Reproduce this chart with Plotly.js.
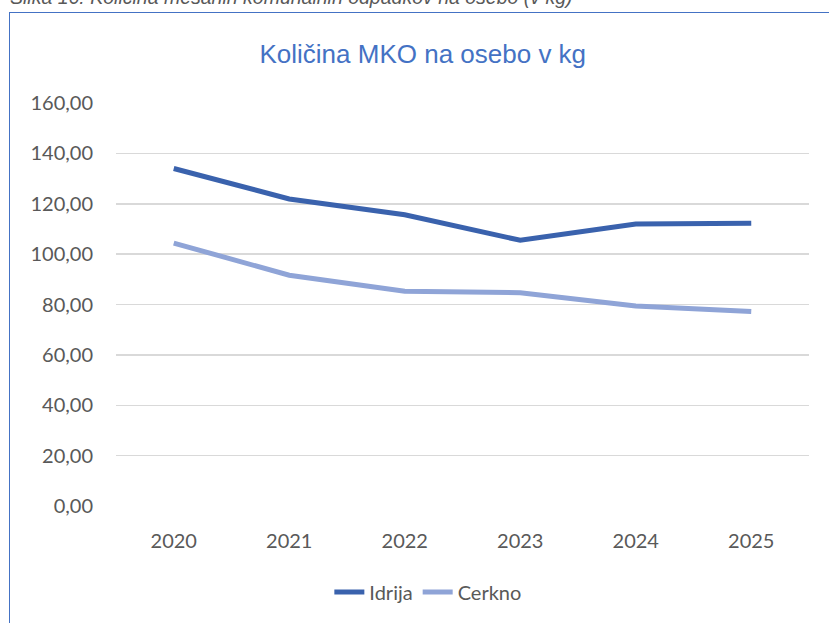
<!DOCTYPE html>
<html>
<head>
<meta charset="utf-8">
<script src="https://cdn.plot.ly/plotly-3.0.1.min.js"></script>
<style>
  html, body { margin: 0; padding: 0; background: #fff; }
  #wrap { position: relative; width: 829px; height: 623px; overflow: hidden; }
  #frame { position: absolute; left: 9px; top: 12px; width: 900px; height: 700px; border: 1.5px solid #4472C4; box-sizing: border-box; }
  #chart { position: absolute; left: 0; top: 0; width: 829px; height: 623px; }
</style>
</head>
<body>
<div id="wrap">
  <div id="frame"></div>
  <div id="chart"></div>
</div>
<script>
const years = ["2020", "2021", "2022", "2023", "2024", "2025"];
const idrija = [134.0, 121.9, 115.6, 105.5, 112.0, 112.3];
const cerkno = [104.4, 91.6, 85.3, 84.7, 79.4, 77.2];
const yTicks = [0, 20, 40, 60, 80, 100, 120, 140, 160];
const yTickLabels = ["0,00", "20,00", "40,00", "60,00", "80,00", "100,00", "120,00", "140,00", "160,00"];
const chartTitle = "Količina MKO na osebo v kg";
const caption = "Slika 16: Količina mešanih komunalnih odpadkov na osebo (v kg)";

const traces = [
  { x: years, y: idrija, name: "Idrija", type: "scatter", mode: "lines",
    line: { color: "#3a62ad", width: 5 } },
  { x: years, y: cerkno, name: "Cerkno", type: "scatter", mode: "lines",
    line: { color: "#8fa4d7", width: 5 } }
];

const layout = {
  width: 829, height: 623,
  margin: { l: 116, r: 20, t: 103, b: 114 },
  paper_bgcolor: "rgba(0,0,0,0)",
  plot_bgcolor: "rgba(0,0,0,0)",
  font: { family: "Lato, 'Open Sans', sans-serif", color: "#595959", size: 20 },
  title: { text: chartTitle, font: { family: "'Liberation Sans', Arial, sans-serif", size: 26, color: "#4472C4" },
           x: 0.51, xanchor: "center", y: 0.913, yanchor: "middle" },
  xaxis: { type: "category", range: [-0.5, 5.5], showgrid: false, zeroline: false, showline: false,
           ticks: "", ticklabelstandoff: 21, tickfont: { size: 20, color: "#595959" } },
  yaxis: { range: [0, 160], tickvals: yTicks, ticktext: yTickLabels, showgrid: true,
           gridcolor: "#d9d9d9", gridwidth: 1.5, zeroline: false, showline: false,
           ticks: "", ticklabelstandoff: 22, tickfont: { size: 20, color: "#595959" } },
  showlegend: true,
  legend: { orientation: "h", x: 0.45, xanchor: "center", y: -0.165, yanchor: "top",
            font: { size: 20, color: "#595959" }, itemwidth: 30, tracegroupgap: 0 },
  annotations: [
    { text: caption, xref: "paper", yref: "paper", x: -0.156, xanchor: "left",
      y: 1.232, yanchor: "bottom", showarrow: false,
      font: { family: "'Liberation Sans', Arial, sans-serif", size: 19.5, color: "#595959", style: "italic" } }
  ]
};

Plotly.newPlot("chart", traces, layout, { displayModeBar: false, staticPlot: true });
</script>
</body>
</html>
